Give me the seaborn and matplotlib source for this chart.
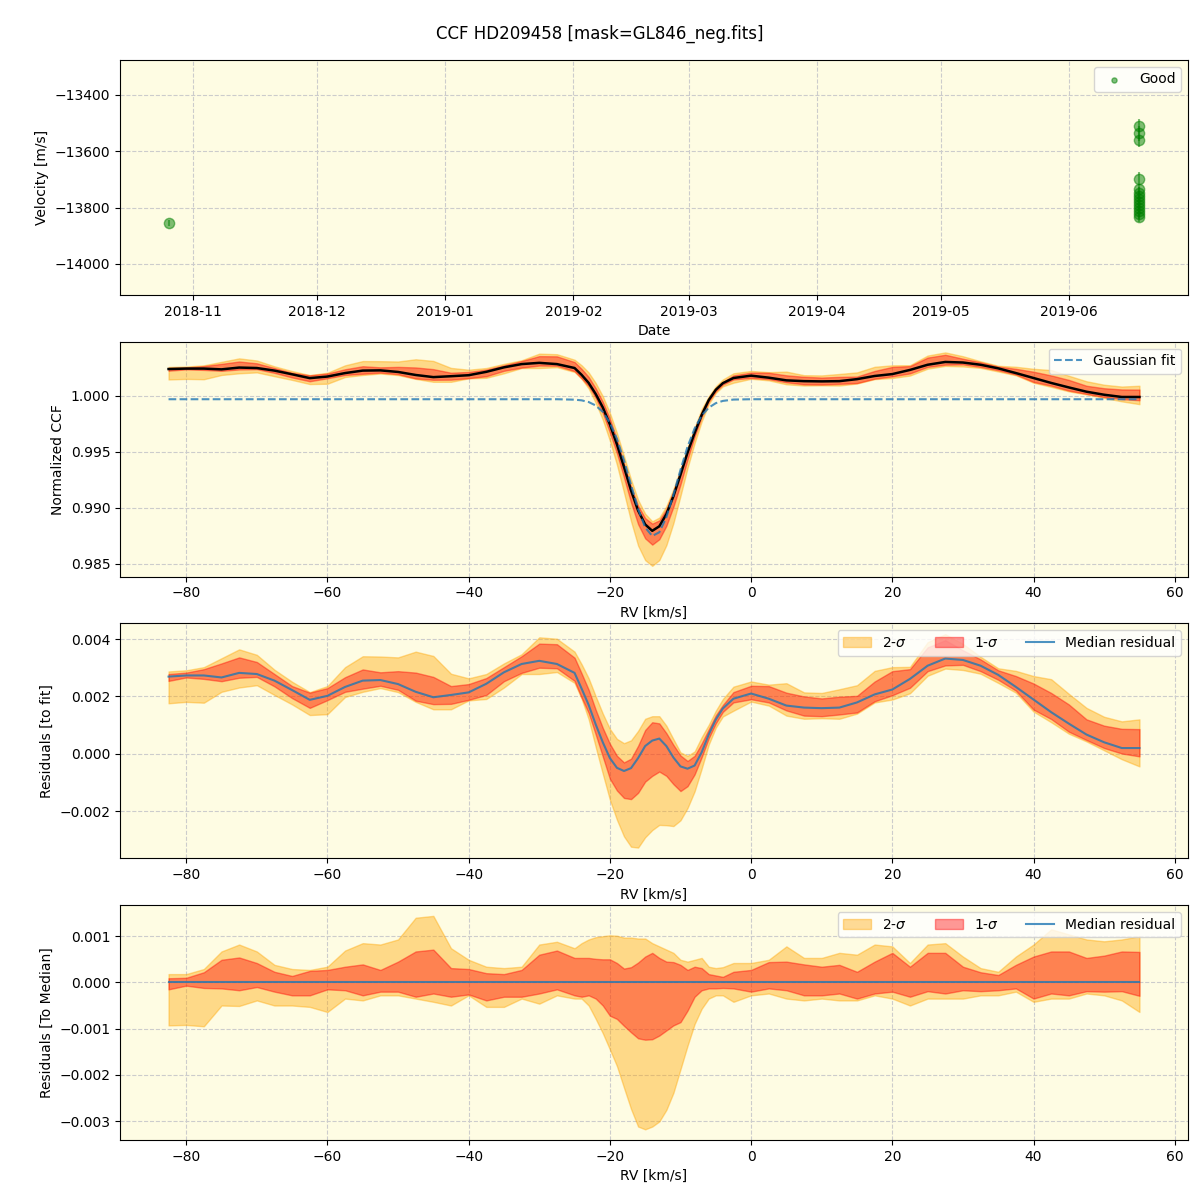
import numpy as np
import pandas as pd
import matplotlib
matplotlib.use('Agg')
import matplotlib.pyplot as plt
import matplotlib.dates as mdates
import seaborn as sns

################################################################
# data:

# velocity time series
obs_dates = ['2018-10-26'] + ['2019-06-18'] * 14
velocity = [-13856, -13512, -13537, -13560, -13697, -13735, -13748, -13760,
            -13770, -13782, -13790, -13800, -13812, -13822, -13832]
velocity_err = [10, 25, 25, 25, 22, 20, 20, 20, 20, 20, 20, 20, 20, 20, 20]

# RV grid [km/s]
rv = [-82.5, -80, -77.5, -75, -72.5, -70, -67.5, -65, -62.5, -60, -57.5, -55,
      -52.5, -50, -47.5, -45, -42.5, -40, -37.5, -35, -32.5, -30, -27.5, -25,
      -24, -23, -22, -21, -20, -19, -18, -17, -16, -15, -14, -13, -12, -11,
      -10, -9, -8, -7, -6, -5, -4, -2.5, 0, 2.5, 5, 7.5, 10, 12.5, 15, 17.5,
      20, 22.5, 25, 27.5, 30, 32.5, 35, 37.5, 40, 42.5, 45, 47.5, 50, 52.5, 55]

# gaussian fit of the CCF
gauss_fit = [0.99967] * 23 + [
    0.99963, 0.99957, 0.99942, 0.99911, 0.99854, 0.99758, 0.99614, 0.99424,
    0.99204, 0.98990, 0.98825, 0.98749, 0.98782, 0.98916, 0.99116, 0.99338,
    0.99544, 0.99707, 0.99821, 0.99892, 0.99932, 0.99952, 0.99964] + [0.99967] * 23

# median residual to the fit
resid_fit = [
    0.00269, 0.00273, 0.00273, 0.00266, 0.00282, 0.00278, 0.00255, 0.00222,
    0.00188, 0.00202, 0.00233, 0.00255, 0.00257, 0.00243, 0.00216, 0.00197,
    0.00205, 0.00214, 0.00244, 0.00284, 0.00313, 0.00324, 0.00313, 0.00282,
    0.00227, 0.00170, 0.00102, 0.00040, -0.00015, -0.00049, -0.00060, -0.00050,
    -0.00015, 0.00027, 0.00046, 0.00053, 0.00027, -0.00013, -0.00044, -0.00052,
    -0.00041, 0.00005, 0.00067, 0.00119, 0.00158, 0.00192, 0.00210, 0.00192,
    0.00168, 0.00161, 0.00159, 0.00161, 0.00179, 0.00207, 0.00224, 0.00261,
    0.00307, 0.00332, 0.00327, 0.00307, 0.00275, 0.00233, 0.00189, 0.00145,
    0.00105, 0.00067, 0.00040, 0.00020, 0.00020]

# percentile bands relative to the median CCF
hi2 = [
    0.00018, 0.00018, 0.00029, 0.00067, 0.00082, 0.00067, 0.00038, 0.00029,
    0.00027, 0.00034, 0.00069, 0.00085, 0.00082, 0.00093, 0.00140, 0.00144,
    0.00074, 0.00049, 0.00034, 0.00031, 0.00034, 0.00082, 0.00088, 0.00074,
    0.00085, 0.00093, 0.00098, 0.00100, 0.00102, 0.00101, 0.00097, 0.00097,
    0.00095, 0.00095, 0.00085, 0.00078, 0.00071, 0.00064, 0.00049, 0.00045,
    0.00049, 0.00053, 0.00034, 0.00031, 0.00033, 0.00042, 0.00042, 0.00049,
    0.00078, 0.00053, 0.00053, 0.00064, 0.00060, 0.00082, 0.00078, 0.00042,
    0.00082, 0.00085, 0.00056, 0.00031, 0.00023, 0.00056, 0.00082, 0.00115,
    0.00104, 0.00093, 0.00089, 0.00093, 0.00100]
hi1 = [
    0.00009, 0.00010, 0.00022, 0.00049, 0.00054, 0.00042, 0.00023, 0.00014,
    0.00025, 0.00027, 0.00034, 0.00039, 0.00027, 0.00045, 0.00067, 0.00071,
    0.00031, 0.00029, 0.00020, 0.00018, 0.00027, 0.00060, 0.00069, 0.00053,
    0.00053, 0.00053, 0.00051, 0.00050, 0.00050, 0.00042, 0.00030, 0.00033,
    0.00043, 0.00056, 0.00064, 0.00053, 0.00045, 0.00044, 0.00038, 0.00027,
    0.00034, 0.00031, 0.00018, 0.00015, 0.00012, 0.00023, 0.00027, 0.00044,
    0.00045, 0.00039, 0.00034, 0.00038, 0.00023, 0.00045, 0.00064, 0.00034,
    0.00064, 0.00064, 0.00034, 0.00022, 0.00016, 0.00038, 0.00056, 0.00067,
    0.00067, 0.00053, 0.00058, 0.00067, 0.00066]
lo1 = [
    -0.00015, -0.00007, -0.00012, -0.00013, -0.00017, -0.00010, -0.00020, -0.00028,
    -0.00028, -0.00015, -0.00017, -0.00028, -0.00020, -0.00020, -0.00031, -0.00024,
    -0.00031, -0.00026, -0.00039, -0.00031, -0.00031, -0.00024, -0.00015, -0.00028,
    -0.00031, -0.00028, -0.00035, -0.00050, -0.00072, -0.00079, -0.00094, -0.00108,
    -0.00121, -0.00124, -0.00123, -0.00115, -0.00104, -0.00093, -0.00086, -0.00061,
    -0.00031, -0.00017, -0.00013, -0.00013, -0.00012, -0.00013, -0.00020, -0.00013,
    -0.00017, -0.00028, -0.00028, -0.00024, -0.00035, -0.00024, -0.00020, -0.00031,
    -0.00019, -0.00024, -0.00017, -0.00019, -0.00017, -0.00013, -0.00035, -0.00024,
    -0.00028, -0.00019, -0.00020, -0.00019, -0.00029]
lo2 = [
    -0.00093, -0.00092, -0.00095, -0.00050, -0.00051, -0.00039, -0.00050, -0.00050,
    -0.00053, -0.00064, -0.00035, -0.00039, -0.00028, -0.00028, -0.00035, -0.00042,
    -0.00050, -0.00028, -0.00053, -0.00053, -0.00035, -0.00046, -0.00028, -0.00035,
    -0.00035, -0.00050, -0.00079, -0.00110, -0.00145, -0.00181, -0.00228, -0.00274,
    -0.00312, -0.00318, -0.00312, -0.00301, -0.00276, -0.00239, -0.00188, -0.00137,
    -0.00090, -0.00057, -0.00035, -0.00028, -0.00028, -0.00042, -0.00028, -0.00024,
    -0.00035, -0.00039, -0.00035, -0.00039, -0.00039, -0.00028, -0.00035, -0.00050,
    -0.00035, -0.00035, -0.00035, -0.00028, -0.00028, -0.00020, -0.00042, -0.00035,
    -0.00035, -0.00024, -0.00028, -0.00039, -0.00064]
resid_median = [0.0] * len(rv)

################################################################
# derived curves:
rv = np.array(rv)
gauss_fit = np.array(gauss_fit)
resid_fit = np.array(resid_fit)
hi2, hi1, lo1, lo2 = map(np.array, (hi2, hi1, lo1, lo2))
ccf_median = gauss_fit + resid_fit

################################################################
# plot:
bg = '#fefce3'
fig, axes = plt.subplots(4, 1, figsize=(12, 12), dpi=100)
fig.subplots_adjust(left=0.1, right=0.99, top=0.95, bottom=0.05, hspace=0.2)
fig.suptitle('CCF HD209458 [mask=GL846_neg.fits]', fontsize=12, y=0.979)

for ax in axes:
    ax.set_facecolor(bg)
    ax.grid(True, linestyle='--', color='#cccccc', linewidth=0.8)
    ax.set_axisbelow(True)

# velocity panel
ax = axes[0]
dates = pd.to_datetime(obs_dates)
ax.errorbar(dates, velocity, yerr=velocity_err, fmt='none', ecolor='green',
            alpha=0.5, elinewidth=1.5)
sns.scatterplot(x=dates, y=velocity, ax=ax, color='green', alpha=0.5, s=55,
                edgecolor='green', linewidth=1, label='Good')
ax.set_ylim(-14110, -13276)
ax.xaxis.set_major_locator(mdates.MonthLocator())
ax.xaxis.set_major_formatter(mdates.DateFormatter('%Y-%m'))
ax.set_xlabel('Date')
ax.set_ylabel('Velocity [m/s]')
ax.legend(loc='upper right', markerscale=0.5)

# normalized CCF
ax = axes[1]
ax.fill_between(rv, ccf_median + lo2, ccf_median + hi2, color='orange', alpha=0.4)
ax.fill_between(rv, ccf_median + lo1, ccf_median + hi1, color='red', alpha=0.4)
sns.lineplot(x=rv, y=ccf_median, ax=ax, color='black', linewidth=1.8)
sns.lineplot(x=rv, y=gauss_fit, ax=ax, color='C0', alpha=0.8, linestyle='--',
             linewidth=1.5, label='Gaussian fit')
ax.set_xlabel('RV [km/s]')
ax.set_ylabel('Normalized CCF')
ax.legend(loc='upper right')

# residuals to fit
ax = axes[2]
ax.fill_between(rv, resid_fit + lo2, resid_fit + hi2, color='orange', alpha=0.4, label='2-$\\sigma$')
ax.fill_between(rv, resid_fit + lo1, resid_fit + hi1, color='red', alpha=0.4, label='1-$\\sigma$')
sns.lineplot(x=rv, y=resid_fit, ax=ax, color='C0', alpha=0.8, linewidth=1.5, label='Median residual')
ax.set_xlabel('RV [km/s]')
ax.set_ylabel('Residuals [to fit]')
ax.legend(loc='upper right', ncol=3)

# residuals to median
ax = axes[3]
ax.fill_between(rv, lo2, hi2, color='orange', alpha=0.4, label='2-$\\sigma$')
ax.fill_between(rv, lo1, hi1, color='red', alpha=0.4, label='1-$\\sigma$')
sns.lineplot(x=rv, y=resid_median, ax=ax, color='C0', alpha=0.8, linewidth=1.5, label='Median residual')
ax.set_xlabel('RV [km/s]')
ax.set_ylabel('Residuals [To Median]')
ax.legend(loc='upper right', ncol=3)

fig.savefig('out.png', dpi=100)
